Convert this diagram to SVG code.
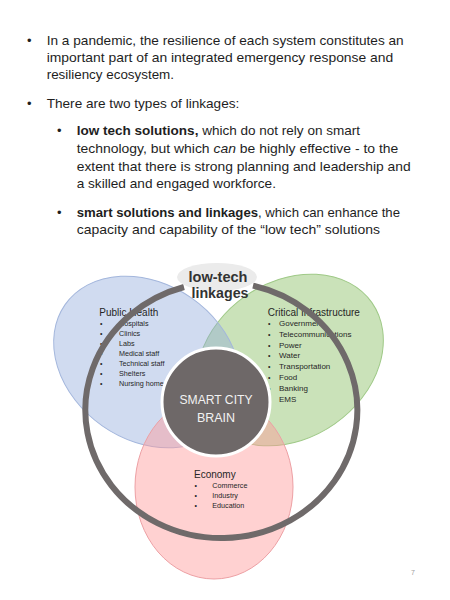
<svg xmlns="http://www.w3.org/2000/svg" width="450" height="600" viewBox="0 0 450 600">
<style>
.body{font-family:"Liberation Sans",Arial,sans-serif;font-size:13.5px;fill:#1e1e1e}
.b{font-weight:bold}
.i{font-style:italic}
.bul{font-family:"Liberation Sans",Arial,sans-serif;font-size:13px;fill:#1e1e1e}
.hd{font-family:"Liberation Sans",Arial,sans-serif;font-size:10px;fill:#262626}
.li{font-family:"Liberation Sans",Arial,sans-serif;font-size:7.2px;fill:#262626}
.li2{font-family:"Liberation Sans",Arial,sans-serif;font-size:8px;fill:#262626}
.dot{font-family:"Liberation Sans",Arial,sans-serif;font-size:7px;fill:#262626}
.lbl{font-family:"Liberation Sans",Arial,sans-serif;font-size:15px;font-weight:bold;fill:#333333}
</style>
<rect width="450" height="600" fill="#ffffff"/>
<g id="text-block">
<text class="bul" x="27" y="44.5">•</text>
<text class="body" x="46.7" y="44.5" textLength="357" lengthAdjust="spacingAndGlyphs">In a pandemic, the resilience of each system constitutes an</text>
<text class="body" x="46.7" y="61.5" textLength="346.6" lengthAdjust="spacingAndGlyphs">important part of an integrated emergency response and</text>
<text class="body" x="46.7" y="78.5" textLength="127.3" lengthAdjust="spacingAndGlyphs">resiliency ecosystem.</text>
<text class="bul" x="27" y="107.5">•</text>
<text class="body" x="46.7" y="107.5" textLength="192.6" lengthAdjust="spacingAndGlyphs">There are two types of linkages:</text>
<text class="bul" x="57" y="135">•</text>
<text class="body" x="76.7" y="135" textLength="283.3" lengthAdjust="spacingAndGlyphs"><tspan class="b">low tech solutions,</tspan> which do not rely on smart</text>
<text class="body" x="76.7" y="152.7" textLength="321.6" lengthAdjust="spacingAndGlyphs">technology, but which <tspan class="i">can</tspan> be highly effective - to the</text>
<text class="body" x="76.7" y="170.5" textLength="334" lengthAdjust="spacingAndGlyphs">extent that there is strong planning and leadership and</text>
<text class="body" x="76.7" y="188.3" textLength="199.3" lengthAdjust="spacingAndGlyphs">a skilled and engaged workforce.</text>
<text class="bul" x="57" y="216.7">•</text>
<text class="body" x="76.7" y="216.7" textLength="323.3" lengthAdjust="spacingAndGlyphs"><tspan class="b">smart solutions and linkages</tspan>, which can enhance the</text>
<text class="body" x="76.7" y="234.3" textLength="303.3" lengthAdjust="spacingAndGlyphs">capacity and capability of the “low tech” solutions</text>
</g>
<g id="critical-infrastructure">
<ellipse cx="290" cy="360" rx="100" ry="78" transform="rotate(-35 290 360)" fill="#a9d18e" fill-opacity="0.62" stroke="#9fc987" stroke-width="1"/>
</g>
<g id="public-health">
<ellipse cx="147" cy="362" rx="100" ry="78" transform="rotate(35 147 362)" fill="#8faadc" fill-opacity="0.42" stroke="#a3b6dc" stroke-width="1"/>
</g>
<g id="economy">
<ellipse cx="214" cy="487" rx="79" ry="92" fill="#ff9999" fill-opacity="0.45" stroke="#eda0a4" stroke-width="1"/>
</g>
<g id="labels">
<text class="hd" x="99.3" y="315.7">Public Health</text>
<g class="dot">
<text x="100" y="326">•</text><text x="100" y="336">•</text><text x="100" y="346">•</text><text x="100" y="356">•</text><text x="100" y="366">•</text><text x="100" y="376">•</text><text x="100" y="386">•</text>
</g>
<text class="li" x="119" y="326">Hospitals</text>
<text class="li" x="119" y="336">Clinics</text>
<text class="li" x="119" y="346">Labs</text>
<text class="li" x="119" y="356">Medical staff</text>
<text class="li" x="119" y="366">Technical staff</text>
<text class="li" x="119" y="376">Shelters</text>
<text class="li" x="119" y="386">Nursing home</text>
<text class="hd" x="267.7" y="315.7">Critical Infrastructure</text>
<g class="dot">
<text x="268" y="326">•</text><text x="268" y="336.8">•</text><text x="268" y="347.6">•</text><text x="268" y="358.4">•</text><text x="268" y="369.2">•</text><text x="268" y="380">•</text><text x="268" y="390.8">•</text><text x="268" y="401.6">•</text>
</g>
<text class="li2" x="279" y="326">Government</text>
<text class="li2" x="279" y="336.8">Telecommunications</text>
<text class="li2" x="279" y="347.6">Power</text>
<text class="li2" x="279" y="358.4">Water</text>
<text class="li2" x="279" y="369.2">Transportation</text>
<text class="li2" x="279" y="380">Food</text>
<text class="li2" x="279" y="390.8">Banking</text>
<text class="li2" x="279" y="401.6">EMS</text>
<text class="hd" x="194" y="477.7">Economy</text>
<g class="dot">
<text x="194.5" y="487.7">•</text><text x="194.5" y="497.7">•</text><text x="194.5" y="507.7">•</text>
</g>
<text class="li" x="212.3" y="487.7">Commerce</text>
<text class="li" x="212.3" y="497.7">Industry</text>
<text class="li" x="212.3" y="507.7">Education</text>
</g>
<g id="connectors">
<path d="M 184 287 A 136 128 0 1 0 253 285.6" fill="none" stroke="#6f6a6a" stroke-width="6"/>
</g>
<g id="smart-city-brain">
<circle cx="216" cy="402" r="54" fill="#6e6868" stroke="#ffffff" stroke-width="3"/>
<text x="216" y="404" text-anchor="middle" font-family="Liberation Sans, Arial, sans-serif" font-size="12.5" fill="#f2f2f2" textLength="73" lengthAdjust="spacingAndGlyphs">SMART CITY</text>
<text x="216" y="421.7" text-anchor="middle" font-family="Liberation Sans, Arial, sans-serif" font-size="12.5" fill="#f2f2f2">BRAIN</text>
</g>
<g id="low-tech-linkages">
<ellipse cx="217" cy="277" rx="40" ry="14" fill="#ebebeb"/>
<text class="lbl" x="218" y="282" text-anchor="middle" textLength="59" lengthAdjust="spacingAndGlyphs">low-tech</text>
<text class="lbl" x="220" y="298" text-anchor="middle" textLength="57" lengthAdjust="spacingAndGlyphs">linkages</text>
</g>
<text x="411" y="575" font-family="Liberation Sans, Arial, sans-serif" font-size="7" fill="#a0a0a0">7</text>
</svg>
